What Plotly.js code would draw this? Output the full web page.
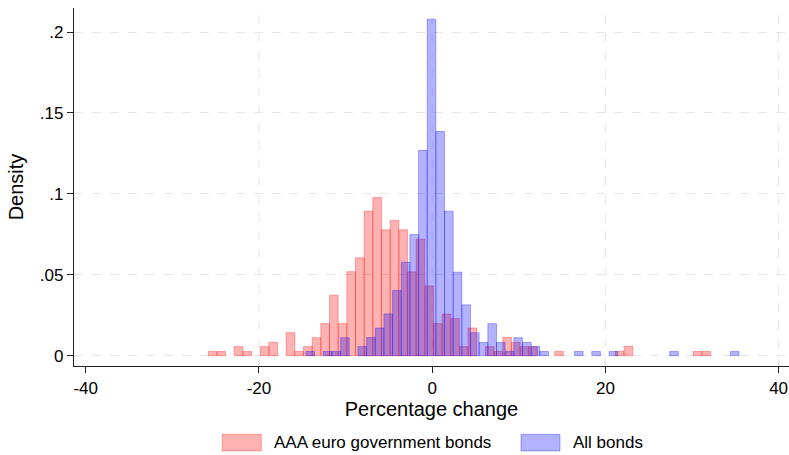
<!DOCTYPE html>
<html>
<head>
<meta charset="utf-8">
<script src="https://cdn.plot.ly/plotly-3.0.1.min.js"></script>
<style>
  html, body { margin: 0; padding: 0; background: #fff; }
  #chart { width: 789px; height: 455px; }
</style>
</head>
<body>
<div id="chart"></div>
<script>
// bin midpoints and densities
var aaaMid = [-25.35, -24.35, -22.35, -21.35, -19.35, -18.35, -16.35, -15.35, -14.35, -13.35,
  -12.35, -11.35, -10.35, -9.35, -8.35, -7.35, -6.35, -5.35, -4.35, -3.35, -2.35, -1.35, -0.35,
  0.65, 1.65, 2.65, 3.65, 4.65, 6.65, 7.65, 8.65, 9.65, 10.65, 11.65, 14.65, 21.65, 22.65, 30.65, 31.65];
var aaaDensity = [0.0026, 0.0026, 0.0056, 0.0026, 0.0056, 0.0082, 0.0142, 0.0026, 0.0056, 0.0111,
  0.0198, 0.0373, 0.0198, 0.0519, 0.0605, 0.0893, 0.0978, 0.0778, 0.0836, 0.0778, 0.0518, 0.072, 0.0431,
  0.0198, 0.0257, 0.0229, 0.0056, 0.0171, 0.0056, 0.0026, 0.0113, 0.0082, 0.0056, 0.0056, 0.0026, 0.0026, 0.0058, 0.0026, 0.0026];

var allMid = [-14.07, -12.07, -11.07, -10.07, -8.07, -7.07, -6.07, -5.07, -4.07, -3.07, -2.07, -1.07, -0.07,
  0.93, 1.93, 2.93, 3.93, 4.93, 5.93, 6.93, 7.93, 8.93, 9.93, 10.93, 11.93, 12.93, 16.93, 18.93, 20.93, 27.93, 34.93];
var allDensity = [0.0026, 0.0026, 0.0026, 0.0111, 0.0056, 0.0112, 0.0171, 0.0258, 0.0403, 0.0577, 0.0749, 0.1269, 0.208,
  0.1385, 0.0893, 0.0516, 0.0314, 0.0142, 0.0082, 0.0198, 0.0082, 0.0026, 0.0111, 0.0082, 0.0056, 0.0026, 0.0026, 0.0026, 0.0026, 0.0026, 0.0026];

var xTicks = [-40, -20, 0, 20, 40];
var xTickText = ['-40', '-20', '0', '20', '40'];
var yTicks = [0, 0.05, 0.1, 0.15, 0.2];
var yTickText = ['0', '.05', '.1', '.15', '.2'];
var seriesNames = ['AAA euro government bonds', 'All bonds'];

var redFill = 'rgba(255,0,0,0.3)';
var blueFill = 'rgba(0,0,255,0.3)';
var gridColor = '#e6e6e6';
var font = 'Liberation Sans, Arial, sans-serif';

var traces = [
  {
    type: 'bar', x: aaaMid, y: aaaDensity, width: 1, name: seriesNames[0],
    marker: {color: redFill, line: {color: redFill, width: 1}}
  },
  {
    type: 'bar', x: allMid, y: allDensity, width: 1, name: seriesNames[1],
    marker: {color: blueFill, line: {color: blueFill, width: 1}}
  }
];

// Stata leaves out the grid line that sits next to the y axis
var shapes = xTicks.slice(1).map(function (v) {
  return {type: 'line', xref: 'x', yref: 'paper', x0: v, x1: v, y0: 0, y1: 1, layer: 'below',
    line: {color: gridColor, width: 1, dash: 'dash'}};
});
shapes.push(
  {type: 'rect', xref: 'paper', yref: 'paper', x0: 0.2074, x1: 0.262, y0: -0.2374, y1: -0.1908,
    fillcolor: redFill, line: {color: redFill, width: 1}},
  {type: 'rect', xref: 'paper', yref: 'paper', x0: 0.6252, x1: 0.6797, y0: -0.2374, y1: -0.1908,
    fillcolor: blueFill, line: {color: blueFill, width: 1}}
);

var layout = {
  width: 789, height: 455,
  margin: {l: 74, r: 0, t: 8, b: 89},
  paper_bgcolor: '#fff', plot_bgcolor: '#fff',
  barmode: 'overlay', bargap: 0,
  showlegend: false,
  font: {family: font, size: 17, color: '#000'},
  xaxis: {
    range: [-41.35, 41.2], tickvals: xTicks, ticktext: xTickText, ticks: 'outside', ticklen: 6, tickcolor: '#222',
    showline: true, linecolor: '#222', linewidth: 1.2,
    showgrid: false, zeroline: false,
    title: {text: 'Percentage change', standoff: 4}
  },
  yaxis: {
    range: [-0.0064, 0.2149], tickvals: yTicks, ticktext: yTickText, ticks: 'outside', ticklen: 6, tickcolor: '#222',
    showline: true, linecolor: '#222', linewidth: 1.2,
    showgrid: true, gridcolor: gridColor, griddash: 'dash', gridwidth: 1, zeroline: false,
    title: {text: 'Density', standoff: 10}
  },
  shapes: shapes,
  annotations: [
    {xref: 'paper', yref: 'paper', x: 0.2765, y: -0.2142, xanchor: 'left', yanchor: 'middle',
      text: seriesNames[0], showarrow: false, font: {family: font, size: 17, color: '#000'}},
    {xref: 'paper', yref: 'paper', x: 0.6947, y: -0.2142, xanchor: 'left', yanchor: 'middle',
      text: seriesNames[1], showarrow: false, font: {family: font, size: 17, color: '#000'}}
  ]
};

Plotly.newPlot('chart', traces, layout, {displayModeBar: false, staticPlot: true});
</script>
</body>
</html>
